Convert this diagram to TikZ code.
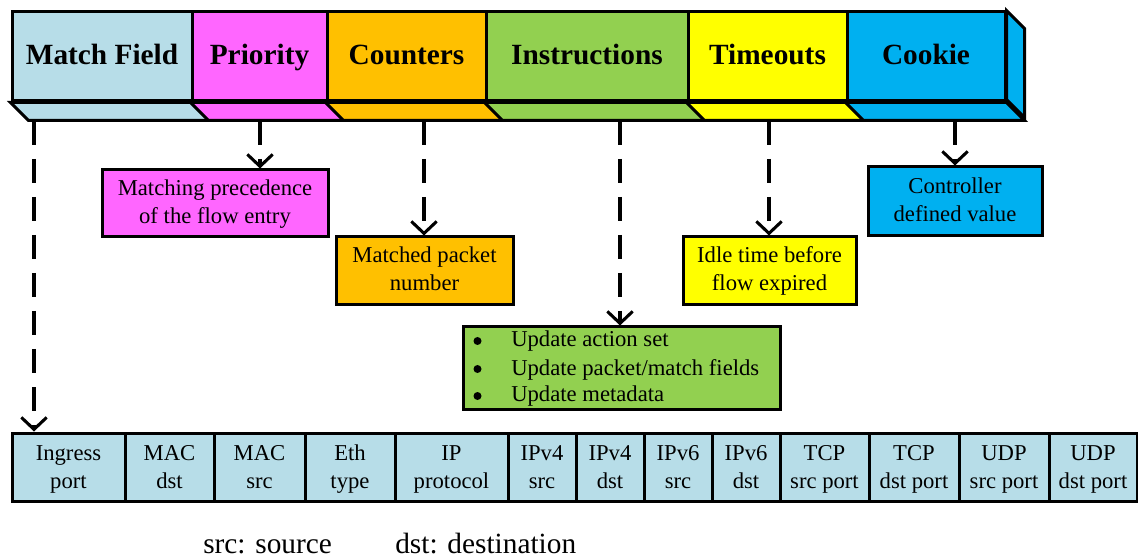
\documentclass[tikz,border=0pt]{standalone}
\usepackage{fontspec}
\setmainfont{Liberation Serif}
\usetikzlibrary{fit,arrows.meta,calc}
\definecolor{cMF}{HTML}{B7DDE8}
\definecolor{cPR}{HTML}{FF66FF}
\definecolor{cCO}{HTML}{FFC000}
\definecolor{cIN}{HTML}{92D050}
\definecolor{cTI}{HTML}{FFFF00}
\definecolor{cCK}{HTML}{00B0F0}
\tikzset{
  frontbox/.style={draw, line width=2.25pt, inner sep=0pt},
  toptext/.style={anchor=base, inner sep=0pt, font=\fontsize{22}{26}\selectfont\bfseries},
  face/.style={draw, line width=2.25pt},
  descbox/.style={draw, line width=2.25pt, inner sep=0pt},
  desctext/.style={inner sep=0pt, align=center, font=\fontsize{17}{21}\selectfont},
  cell/.style={draw, fill=cMF, line width=2.25pt, inner sep=0pt},
  itemtext/.style={anchor=base west, inner sep=0pt, font=\fontsize{17}{21}\selectfont},
  darr/.style={draw, line width=2.3pt, dash pattern=on 18pt off 10.5pt, -{Straight Barb[length=9pt,width=19pt]}},
  legend/.style={anchor=base west, inner sep=0pt, font=\fontsize{22}{26}\selectfont}
}
\begin{document}
\begin{tikzpicture}[x=0.75pt,y=-0.75pt]
\useasboundingbox (0,0) rectangle (1138,559);
% top bar front faces
\node[frontbox, fill=cMF, fit={(12,12)(192,101)}] (mf) {};
\node[frontbox, fill=cPR, fit={(192,12)(327,101)}] (pr) {};
\node[frontbox, fill=cCO, fit={(327,12)(486,101)}] (co) {};
\node[frontbox, fill=cIN, fit={(486,12)(688,101)}] (in) {};
\node[frontbox, fill=cTI, fit={(688,12)(847,101)}] (ti) {};
\node[frontbox, fill=cCK, fit={(847,12)(1005,101)}] (ck) {};
\node[toptext] (mft) at (mf.center |- 0,65) {Match Field};
\node[toptext] (prt) at (pr.center |- 0,65) {Priority};
\node[toptext] (cot) at (co.center |- 0,65) {Counters};
\node[toptext] (int) at (in.center |- 0,65) {Instructions};
\node[toptext] (tit) at (ti.center |- 0,65) {Timeouts};
\node[toptext] (ckt) at (ck.center |- 0,65) {Cookie};
% bottom faces
\foreach \n/\c in {mf/cMF, pr/cPR, co/cCO, in/cIN, ti/cTI, ck/cCK}{
  \filldraw[face, fill=\c] (\n.south west) -- (\n.south east) -- ++(18,18) -- ($(\n.south west)+(18,18)$) -- cycle;
}
% right face
\filldraw[face, fill=cCK] (ck.north east) -- ++(18,18) -- ++(0,89) -- ++(-18,-18) -- cycle;
% description boxes
\node[descbox, fill=cPR, fit={(102,170)(328,237)}] (pd) {};
\node[desctext] (pdt) at (pd.center) {\strut Matching precedence\\of the flow entry\strut};
\node[descbox, fill=cCO, fit={(336,237)(513,305)}] (cd) {};
\node[desctext] (cdt) at (cd.center) {\strut Matched packet\\number\strut};
\node[descbox, fill=cTI, fit={(683,237)(856,305)}] (td) {};
\node[desctext] (tdt) at (td.center) {\strut Idle time before\\flow expired\strut};
\node[descbox, fill=cCK, fit={(868,167)(1042,236)}] (kd) {};
\node[desctext] (kdt) at (kd.center) {\strut Controller\\defined value\strut};
\node[descbox, fill=cIN, fit={(463,327)(780,409)}] (id) {};
\fill (477.5,341) circle (3pt);
\fill (477.5,369) circle (3pt);
\fill (477.5,396) circle (3pt);
\node[itemtext] (it1) at (511,347) {Update action set};
\node[itemtext] (it2) at (511,375) {Update packet/match fields};
\node[itemtext] (it3) at (511,402) {Update metadata};
% match field cells
\foreach \a/\b/\t [count=\i] in {12/125/Ingress\\port, 125/214/MAC\\dst, 214/305/MAC\\src, 305/395/Eth\\type,
  395/508/IP\\protocol, 508/576/IPv4\\src, 576/644/IPv4\\dst, 644/712/IPv6\\src, 712/780/IPv6\\dst,
  780/869/TCP\\src port, 869/959/TCP\\dst port, 959/1049/UDP\\src port, 1049/1137/UDP\\dst port}{
  \node[cell, fit={(\a,433)(\b,501)}] (c\i) {};
  \node[desctext] (ct\i) at ($(c\i.center)+(0,1.5)$) {\strut\t\strut};
}
% arrows
\coordinate (mfa) at (34,121);
\coordinate (pra) at (260,121);
\coordinate (coa) at (424,121);
\coordinate (ina) at (620,121);
\coordinate (tia) at (769,121);
\coordinate (cka) at (955,121);
\draw[darr] (mfa) -- (mfa |- c1.north);
\draw[darr] (pra) -- (pra |- pd.north);
\draw[darr] (coa) -- (coa |- cd.north);
\draw[darr] (ina) -- (ina |- id.north);
\draw[darr] (tia) -- (tia |- td.north);
\draw[darr] (cka) -- (cka |- kd.north);
% legend
\node[legend] (leg1) at (203,553) {src: source};
\node[legend] (leg2) at (395,553) {dst: destination};
\end{tikzpicture}
\end{document}
